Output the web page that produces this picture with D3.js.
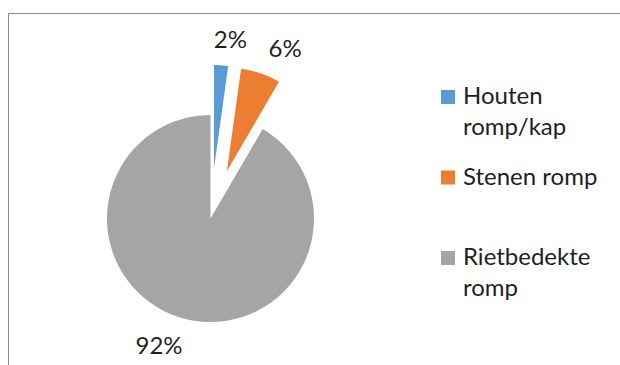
<!DOCTYPE html>
<html>
<head>
<meta charset="utf-8">
<script src="https://cdn.jsdelivr.net/npm/d3@7"></script>
<style>
  html, body { margin: 0; padding: 0; background: #fff; }
  svg { display: block; font-family: Lato, "Open Sans", sans-serif; }
</style>
</head>
<body>
<svg width="620" height="365"></svg>
<script>
const categories = ['Houten romp/kap', 'Stenen romp', 'Rietbedekte romp']
const shares = [2.2, 6.2, 91.6]
const explode = [50, 50, 0]
const colors = ['#5b9bd5', '#ed7d31', '#a5a5a5']

const width = 620,
  height = 365,
  center = [210.5, 218.5],
  radius = 103.5,
  labelGap = 15,
  fontSize = 24,
  textColor = '#1f1f1f',
  legendX = 441,
  legendSwatch = 14,
  legendWrap = 150,
  lineHeight = 31

const svg = d3.select('svg')
  .attr('width', width)
  .attr('height', height)

// chart frame, runs off the right and bottom edges
svg.append('rect')
  .attr('x', 8.5)
  .attr('y', 13.5)
  .attr('width', width + 20)
  .attr('height', height + 20)
  .attr('fill', 'none')
  .attr('stroke', '#8c8c8c')
  .attr('stroke-width', 1)

const pie = d3.pie().sort(null).value(d => d)
const arcs = pie(shares)
const total = d3.sum(shares)

const arc = d3.arc().innerRadius(0).outerRadius(radius)

// exploded slices move out along their bisector
const offset = (d, i) => {
  const a = (d.startAngle + d.endAngle) / 2
  return [explode[i] * Math.sin(a), -explode[i] * Math.cos(a)]
}

const pieG = svg.append('g')
  .attr('transform', `translate(${center})`)

pieG.selectAll('.slice')
  .data(arcs)
  .enter().append('path')
  .classed('slice', true)
  .attr('d', arc)
  .attr('fill', (d, i) => colors[i])
  .attr('transform', (d, i) => `translate(${offset(d, i)})`)

// data labels, outside end
const labels = pieG.selectAll('.label')
  .data(arcs)
  .enter().append('text')
  .classed('label', true)
  .attr('font-size', fontSize)
  .attr('fill', textColor)
  .attr('text-anchor', 'middle')
  .attr('dominant-baseline', 'central')
  .text(d => d3.format('.0f')(d.value / total * 100) + '%')

labels.each(function (d, i) {
  const a = (d.startAngle + d.endAngle) / 2
  const o = offset(d, i)
  const r = radius + labelGap
  const px = o[0] + r * Math.sin(a)
  const py = o[1] - r * Math.cos(a)
  const box = this.getBBox()
  const clamp = v => Math.max(-1, Math.min(1, v * 4.6))
  d3.select(this)
    .attr('x', px + box.width / 2 * clamp(Math.sin(a)) + 3)
    .attr('y', py - (box.height * 0.8) / 2 * clamp(Math.cos(a)))
})

// legend
const legendY = d3.scalePoint()
  .domain(categories)
  .range([90, 251])

const legend = svg.selectAll('.legend-item')
  .data(categories)
  .enter().append('g')
  .classed('legend-item', true)
  .attr('transform', d => `translate(${legendX},${legendY(d)})`)

legend.append('rect')
  .attr('width', legendSwatch)
  .attr('height', legendSwatch)
  .attr('fill', (d, i) => colors[i])

legend.each(function (d) {
  const text = d3.select(this).append('text')
    .attr('x', 22)
    .attr('font-size', fontSize)
    .attr('fill', textColor)
  const words = d.split(' ')
  let line = []
  let tspan = text.append('tspan').attr('x', 22).attr('y', 14)
  words.forEach(w => {
    line.push(w)
    tspan.text(line.join(' '))
    if (tspan.node().getComputedTextLength() > legendWrap && line.length > 1) {
      line.pop()
      tspan.text(line.join(' '))
      line = [w]
      tspan = text.append('tspan').attr('x', 22).attr('dy', lineHeight).text(w)
    }
  })
})
</script>
</body>
</html>
